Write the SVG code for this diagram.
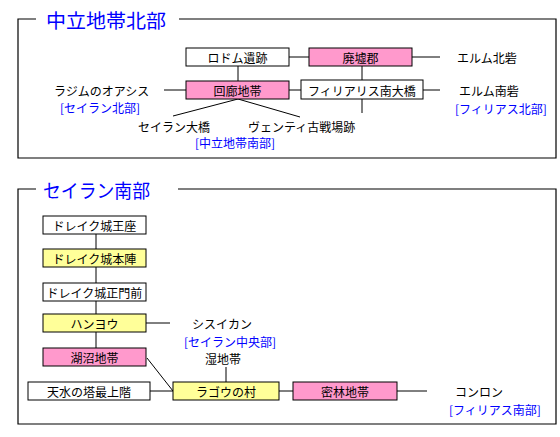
<svg xmlns="http://www.w3.org/2000/svg" width="560" height="437" viewBox="0 0 560 437">
<style>
.frame{fill:none;stroke:#000;stroke-width:1.2}
.ln{stroke:#000;stroke-width:1;fill:none}
.box{stroke:#000;stroke-width:1}
.w{fill:#fff}.p{fill:#ff99cc}.y{fill:#ffff99}
text{font-family:"Noto Sans CJK JP","Noto Sans",sans-serif;font-size:12px;fill:#000;dominant-baseline:central}
.c{text-anchor:middle}
.b{fill:#0000ff}
.t{font-size:19px;fill:#0000ff}
</style>
<rect width="560" height="437" fill="#fff"/>
<g id="frames">
<path class="frame" d="M36,19 H18 V158 H556 V19 H179"/>
<text class="t" x="46" y="19" textLength="120" lengthAdjust="spacingAndGlyphs">中立地帯北部</text>
<path class="frame" d="M36,189 H18 V424 H556 V189 H178"/>
<text class="t" x="43" y="189" textLength="107" lengthAdjust="spacingAndGlyphs">セイラン南部</text>
</g>
<g id="connectors">
<line class="ln" x1="289" y1="57" x2="309" y2="57"/>
<line class="ln" x1="412" y1="57" x2="440" y2="57"/>
<line class="ln" x1="238" y1="66" x2="238" y2="81"/>
<line class="ln" x1="362" y1="66" x2="362" y2="80"/>
<line class="ln" x1="362" y1="99" x2="362" y2="113"/>
<line class="ln" x1="164" y1="90" x2="186" y2="90"/>
<line class="ln" x1="289" y1="90" x2="301" y2="90"/>
<line class="ln" x1="423" y1="90" x2="440" y2="90"/>
<line class="ln" x1="238" y1="99" x2="173" y2="116"/>
<line class="ln" x1="238" y1="99" x2="300" y2="117"/>
<line class="ln" x1="96" y1="234" x2="96" y2="249"/>
<line class="ln" x1="96" y1="267" x2="96" y2="283"/>
<line class="ln" x1="96" y1="301" x2="96" y2="314"/>
<line class="ln" x1="96" y1="332" x2="96" y2="348"/>
<line class="ln" x1="146" y1="323" x2="170" y2="323"/>
<line class="ln" x1="147" y1="358" x2="173" y2="391"/>
<line class="ln" x1="150" y1="391" x2="173" y2="391"/>
<line class="ln" x1="226" y1="367" x2="226" y2="382"/>
<line class="ln" x1="279" y1="391" x2="293" y2="391"/>
<line class="ln" x1="397" y1="391" x2="427" y2="391"/>
</g>
<g id="n-rodomu"><rect class="box w" x="186" y="48" width="103" height="18"/><text class="c" x="237.5" y="57">ロドム遺跡</text></g>
<g id="n-haikyo"><rect class="box p" x="309" y="48" width="103" height="18"/><text class="c" x="360.5" y="57">廃墟郡</text></g>
<g id="n-erumu-n"><text x="457" y="57">エルム北砦</text></g>
<g id="n-kairo"><rect class="box p" x="186" y="81" width="103" height="18"/><text class="c" x="237.5" y="90">回廊地帯</text></g>
<g id="n-firiarisu"><rect class="box w" x="301" y="80" width="122" height="19"/><text class="c" x="362" y="90">フィリアリス南大橋</text></g>
<g id="n-erumu-s"><text x="459" y="90">エルム南砦</text><text class="b" x="455" y="108">[フィリアス北部]</text></g>
<g id="n-rajimu"><text x="54" y="90">ラジムのオアシス</text><text class="b" x="60" y="107">[セイラン北部]</text></g>
<g id="n-seiran-bridge"><text x="138" y="126">セイラン大橋</text></g>
<g id="n-venti"><text x="248" y="126">ヴェンティ古戦場跡</text><text class="b" x="195" y="142">[中立地帯南部]</text></g>
<g id="n-gyokuza"><rect class="box w" x="43" y="216" width="103" height="18"/><text class="c" x="94.5" y="225">ドレイク城王座</text></g>
<g id="n-honjin"><rect class="box y" x="43" y="249" width="103" height="18"/><text class="c" x="94.5" y="258">ドレイク城本陣</text></g>
<g id="n-seimon"><rect class="box w" x="43" y="283" width="103" height="18"/><text class="c" x="94.5" y="292">ドレイク城正門前</text></g>
<g id="n-hanyou"><rect class="box y" x="43" y="314" width="103" height="18"/><text class="c" x="94.5" y="323">ハンヨウ</text></g>
<g id="n-shisuikan"><text x="192" y="323">シスイカン</text><text class="b" x="184" y="341">[セイラン中央部]</text></g>
<g id="n-koshou"><rect class="box p" x="43" y="348" width="103" height="18"/><text class="c" x="94.5" y="357">湖沼地帯</text></g>
<g id="n-shicchi"><text x="205" y="358">湿地帯</text></g>
<g id="n-tensui"><rect class="box w" x="28" y="382" width="122" height="18"/><text class="c" x="89" y="391">天水の塔最上階</text></g>
<g id="n-ragou"><rect class="box y" x="173" y="382" width="106" height="18"/><text class="c" x="226" y="391">ラゴウの村</text></g>
<g id="n-mitsurin"><rect class="box p" x="293" y="382" width="104" height="18"/><text class="c" x="345" y="391">密林地帯</text></g>
<g id="n-konron"><text x="455" y="391">コンロン</text><text class="b" x="449" y="409">[フィリアス南部]</text></g>
</svg>
